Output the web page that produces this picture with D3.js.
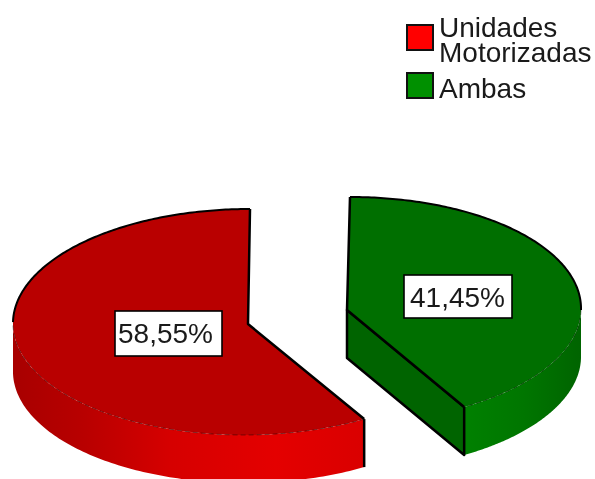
<!DOCTYPE html>
<html>
<head>
<meta charset="utf-8">
<title>Pie</title>
<script src="https://d3js.org/d3.v7.min.js"></script>
<style>
 html, body { margin: 0; padding: 0; background: #fff; }
 svg { display: block; filter: blur(0.6px); }
 text { font-family: "Liberation Sans", Arial, sans-serif; fill: #1a1a1a; }
 .legend text { font-size: 28px; }
 .label text { font-size: 28px; }
</style>
</head>
<body>
  <div id="chart"></div>
  <script>
  var categories = ["Unidades Motorizadas", "Ambas"];
  var values = [58.55, 41.45];
  var valueLabels = ["58,55%", "41,45%"];
  var legendLines = [["Unidades", "Motorizadas"], ["Ambas"]];

  var width = 595, height = 479;
  var depth = 48;
  var topColors = ["#b90000", "#006f00"];
  var legendColors = ["#ff0000", "#009000"];

  // each slice is pulled out, so it gets its own centre
  var slices = [
    {cx: 247, cy: 322, rx: 234, ry: 113, apex: [248, 324], box: [115, 311, 107, 45], textX: 165.5},
    {cx: 347, cy: 310, rx: 234, ry: 113, apex: [347, 310], box: [404, 275, 108, 43], textX: 457.5}
  ];

  var svg = d3.select("#chart").append("svg")
    .attr("width", width)
    .attr("height", height);

  var defs = svg.append("defs");
  function gradient(id, x1, x2, stops) {
    var g = defs.append("linearGradient").attr("id", id)
      .attr("gradientUnits", "userSpaceOnUse")
      .attr("x1", x1).attr("x2", x2).attr("y1", 0).attr("y2", 0);
    stops.forEach(function(s) {
      g.append("stop").attr("offset", s[0]).attr("stop-color", s[1]);
    });
  }
  gradient("wall0", 13, 363, [[0, "#a80000"], [0.2, "#b80000"], [0.45, "#d60000"], [0.75, "#e40000"], [1, "#da0000"]]);
  gradient("wall1", 465, 581, [[0, "#008000"], [0.5, "#007600"], [1, "#006400"]]);

  var total = d3.sum(values);
  var pie = d3.pie().sort(null)
    .startAngle(-2 * Math.PI * values[0] / total)
    .endAngle(2 * Math.PI - 2 * Math.PI * values[0] / total);
  var arcs = pie(values);

  var line = d3.line();

  // angle on the tilted disc -> pixel
  function point(s, t, dy) {
    var x = d3.scaleLinear().domain([-1, 1]).range([s.cx - s.rx, s.cx + s.rx]);
    var y = d3.scaleLinear().domain([-1, 1]).range([s.cy - s.ry, s.cy + s.ry]);
    var cy = -Math.cos(t);
    return [x(Math.sin(t)) - cy * 3, y(cy) + (dy || 0)];
  }
  function arcPoints(s, a, b, dy) {
    var n = 120, pts = [];
    for (var i = 0; i <= n; i++) pts.push(point(s, a + (b - a) * i / n, dy));
    return pts;
  }
  function shift(p, dy) { return [p[0], p[1] + dy]; }

  arcs.forEach(function(a, i) {
    var s = slices[i];
    var g = svg.append("g").attr("class", "slice");
    var apex = s.apex;

    // curved wall: only the part of the rim that faces us
    var wa = i == 0 ? a.startAngle : Math.PI / 2;
    var wb = i == 0 ? -Math.PI / 2 : a.endAngle;
    var upper = arcPoints(s, wa, wb, 0);
    var lower = arcPoints(s, wb, wa, depth);
    g.append("path")
      .attr("d", line(upper.concat(lower)) + "Z")
      .attr("fill", "url(#wall" + i + ")");

    if (i == 0) {
      // black edge where the red wall ends at the cut
      var e = point(s, a.startAngle, 0);
      g.append("path").attr("d", line([e, shift(e, depth)]))
        .attr("stroke", "#000").attr("stroke-width", 2.5).attr("fill", "none");
    } else {
      // cut face of the green slice
      var c = point(s, a.endAngle, 0);
      g.append("path")
        .attr("d", line([apex, c, shift(c, depth), shift(apex, depth)]) + "Z")
        .attr("fill", "#006400").attr("stroke", "#000").attr("stroke-width", 2.5)
        .attr("stroke-linejoin", "round");
    }

    // top face
    var rim = arcPoints(s, a.startAngle, a.endAngle, 0);
    g.append("path")
      .attr("d", line([apex].concat(rim)) + "Z")
      .attr("fill", topColors[i]);

    // thin dashed line along the front of the rim
    g.append("path")
      .attr("d", line(upper))
      .attr("fill", "none").attr("stroke", "#000").attr("stroke-opacity", 0.4)
      .attr("stroke-width", 1).attr("stroke-dasharray", "5 3");

    // black outline on the back of the rim and the straight cuts
    var back = i == 0
      ? arcPoints(s, -Math.PI / 2, a.endAngle, 0)
      : arcPoints(s, a.startAngle, Math.PI / 2, 0);
    g.append("path").attr("d", line(back))
      .attr("fill", "none").attr("stroke", "#000").attr("stroke-width", 2);
    var cuts = i == 0
      ? [point(s, a.endAngle, 0), apex, point(s, a.startAngle, 0)]
      : [point(s, a.startAngle, 0), apex, point(s, a.endAngle, 0)];
    g.append("path").attr("d", line(cuts))
      .attr("fill", "none").attr("stroke", "#000").attr("stroke-width", 2.5)
      .attr("stroke-linejoin", "round");
  });

  // value labels
  var labels = svg.append("g").attr("class", "label").selectAll("g")
    .data(valueLabels).enter().append("g");
  labels.append("rect")
    .attr("x", function(d, i) { return slices[i].box[0]; })
    .attr("y", function(d, i) { return slices[i].box[1]; })
    .attr("width", function(d, i) { return slices[i].box[2]; })
    .attr("height", function(d, i) { return slices[i].box[3]; })
    .attr("fill", "#fff").attr("stroke", "#000").attr("stroke-width", 1.6);
  labels.append("text")
    .attr("x", function(d, i) { return slices[i].textX; })
    .attr("y", function(d, i) { return slices[i].box[1] + 32; })
    .attr("text-anchor", "middle")
    .text(function(d) { return d; });

  // legend
  var legendTop = [25, 73];
  var legendBase = [[37, 62], [98]];
  var legend = svg.append("g").attr("class", "legend").selectAll("g")
    .data(categories).enter().append("g");
  legend.append("rect")
    .attr("x", 407)
    .attr("y", function(d, i) { return legendTop[i]; })
    .attr("width", 26).attr("height", 25)
    .attr("fill", function(d, i) { return legendColors[i]; })
    .attr("stroke", "#111").attr("stroke-width", 2);
  legend.each(function(d, i) {
    d3.select(this).selectAll("text")
      .data(legendLines[i]).enter().append("text")
      .attr("x", 439)
      .attr("y", function(t, j) { return legendBase[i][j]; })
      .text(function(t) { return t; });
  });
  </script>
</body>
</html>
